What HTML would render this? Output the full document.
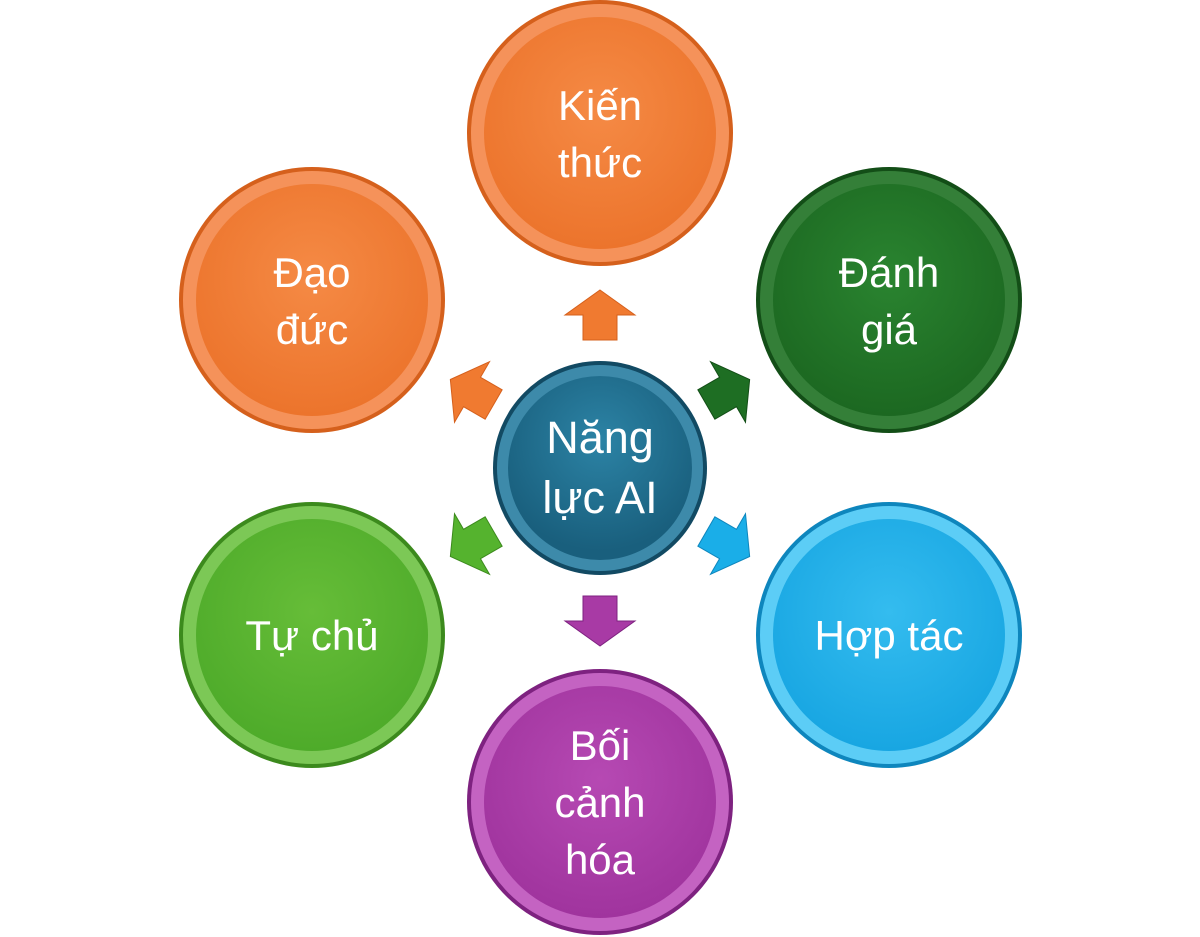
<!DOCTYPE html>
<html><head><meta charset="utf-8"><style>
html,body{margin:0;padding:0;background:#fff;}
svg{display:block}
text{font-family:"Liberation Sans","DejaVu Sans",sans-serif;fill:#fff;text-anchor:middle}
</style></head><body>
<svg width="1200" height="937" viewBox="0 0 1200 937" xmlns="http://www.w3.org/2000/svg">
<defs>
<radialGradient id="or" cx="50%" cy="40%" r="60%"><stop offset="0" stop-color="#f58a45"/><stop offset="1" stop-color="#ec742c"/></radialGradient>
<radialGradient id="dg" cx="50%" cy="40%" r="60%"><stop offset="0" stop-color="#2a8430"/><stop offset="1" stop-color="#1c6821"/></radialGradient>
<radialGradient id="bl" cx="50%" cy="40%" r="60%"><stop offset="0" stop-color="#34bcef"/><stop offset="1" stop-color="#18a6e2"/></radialGradient>
<radialGradient id="gr" cx="50%" cy="40%" r="60%"><stop offset="0" stop-color="#66bd38"/><stop offset="1" stop-color="#4eab2a"/></radialGradient>
<radialGradient id="pu" cx="50%" cy="40%" r="60%"><stop offset="0" stop-color="#b649b3"/><stop offset="1" stop-color="#a0349e"/></radialGradient>
<radialGradient id="te" cx="50%" cy="35%" r="60%"><stop offset="0" stop-color="#2c83a5"/><stop offset="1" stop-color="#195f7d"/></radialGradient>
</defs>
<g>
<g transform="translate(600,133)"><circle r="133" fill="#d5601c"/><circle r="129" fill="#f5925a"/><circle r="116" fill="url(#or)"/></g>
<g transform="translate(312,300)"><circle r="133" fill="#d5601c"/><circle r="129" fill="#f5925a"/><circle r="116" fill="url(#or)"/></g>
<g transform="translate(889,300)"><circle r="133" fill="#134e17"/><circle r="129" fill="#347f38"/><circle r="116" fill="url(#dg)"/></g>
<g transform="translate(312,635)"><circle r="133" fill="#3c8a1d"/><circle r="129" fill="#7cc856"/><circle r="116" fill="url(#gr)"/></g>
<g transform="translate(889,635)"><circle r="133" fill="#0e86bd"/><circle r="129" fill="#5ccdf6"/><circle r="116" fill="url(#bl)"/></g>
<g transform="translate(600,802)"><circle r="133" fill="#7e2280"/><circle r="129" fill="#c463c2"/><circle r="116" fill="url(#pu)"/></g>
<g transform="translate(600,468)"><circle r="107" fill="#124a63"/><circle r="103" fill="#3d8aaa"/><circle r="92" fill="url(#te)"/></g>
</g>
<g>
<polygon transform="translate(600,315) rotate(0)" points="0,-25 35,0 17,0 17,25 -17,25 -17,0 -35,0" fill="#f07a30" stroke="#d5601c"/>
<polygon transform="translate(728,392) rotate(60)" points="0,-25 35,0 17,0 17,25 -17,25 -17,0 -35,0" fill="#1e6e23" stroke="#134e17"/>
<polygon transform="translate(728,544) rotate(120)" points="0,-25 35,0 17,0 17,25 -17,25 -17,0 -35,0" fill="#1aaee8" stroke="#0e86bd"/>
<polygon transform="translate(600,621) rotate(180)" points="0,-25 35,0 17,0 17,25 -17,25 -17,0 -35,0" fill="#a83aa5" stroke="#7e2280"/>
<polygon transform="translate(472,544) rotate(240)" points="0,-25 35,0 17,0 17,25 -17,25 -17,0 -35,0" fill="#55b32e" stroke="#3c8a1d"/>
<polygon transform="translate(472,392) rotate(300)" points="0,-25 35,0 17,0 17,25 -17,25 -17,0 -35,0" fill="#f07a30" stroke="#d5601c"/>
</g>
<g font-size="42">
<text x="600" y="120">Kiến</text><text x="600" y="177">thức</text>
<text x="312" y="287">Đạo</text><text x="312" y="344">đức</text>
<text x="889" y="287">Đánh</text><text x="889" y="344">giá</text>
<text x="312" y="650">Tự chủ</text>
<text x="889" y="650">Hợp tác</text>
<text x="600" y="760">Bối</text><text x="600" y="817">cảnh</text><text x="600" y="874">hóa</text>
<text x="600" y="453" font-size="45">Năng</text><text x="600" y="513" font-size="45">lực AI</text>
</g>
</svg>
</body></html>
